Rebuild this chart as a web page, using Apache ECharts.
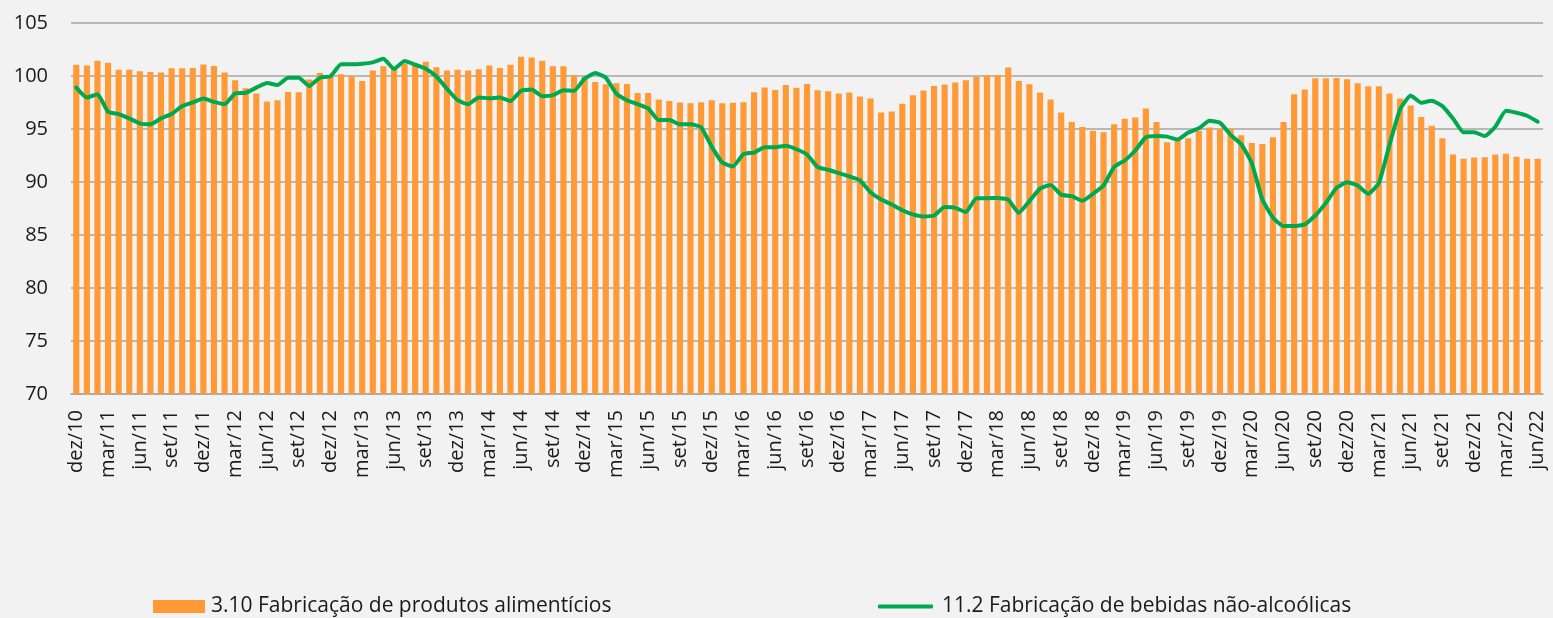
<!DOCTYPE html>
<html>
<head>
<meta charset="utf-8">
<script src="https://cdn.jsdelivr.net/npm/echarts@6/dist/echarts.min.js"></script>
<style>
html,body{margin:0;padding:0;background:#f2f2f3;}
#chart{width:1553px;height:618px;}
</style>
</head>
<body>
<div id="chart"></div>
<script>
const categories = [
'dez/10',
'jan/11','fev/11','mar/11','abr/11','mai/11','jun/11','jul/11','ago/11','set/11','out/11','nov/11','dez/11',
'jan/12','fev/12','mar/12','abr/12','mai/12','jun/12','jul/12','ago/12','set/12','out/12','nov/12','dez/12',
'jan/13','fev/13','mar/13','abr/13','mai/13','jun/13','jul/13','ago/13','set/13','out/13','nov/13','dez/13',
'jan/14','fev/14','mar/14','abr/14','mai/14','jun/14','jul/14','ago/14','set/14','out/14','nov/14','dez/14',
'jan/15','fev/15','mar/15','abr/15','mai/15','jun/15','jul/15','ago/15','set/15','out/15','nov/15','dez/15',
'jan/16','fev/16','mar/16','abr/16','mai/16','jun/16','jul/16','ago/16','set/16','out/16','nov/16','dez/16',
'jan/17','fev/17','mar/17','abr/17','mai/17','jun/17','jul/17','ago/17','set/17','out/17','nov/17','dez/17',
'jan/18','fev/18','mar/18','abr/18','mai/18','jun/18','jul/18','ago/18','set/18','out/18','nov/18','dez/18',
'jan/19','fev/19','mar/19','abr/19','mai/19','jun/19','jul/19','ago/19','set/19','out/19','nov/19','dez/19',
'jan/20','fev/20','mar/20','abr/20','mai/20','jun/20','jul/20','ago/20','set/20','out/20','nov/20','dez/20',
'jan/21','fev/21','mar/21','abr/21','mai/21','jun/21','jul/21','ago/21','set/21','out/21','nov/21','dez/21',
'jan/22','fev/22','mar/22','abr/22','mai/22','jun/22'
];

const alimenticios = [
101.06,101.0,101.44,101.25,100.59,100.59,100.44,100.38,100.34,100.72,100.72,100.75,101.09,
100.94,100.34,99.59,98.84,98.34,97.59,97.71,98.5,98.46,99.66,100.28,100.0,
100.16,99.97,99.53,100.53,100.91,100.69,101.16,101.0,101.35,100.82,100.53,100.6,
100.53,100.63,101.0,100.75,101.06,101.81,101.75,101.44,100.91,100.91,100.06,99.9,
99.44,99.22,99.31,99.25,98.4,98.4,97.78,97.63,97.5,97.44,97.53,97.72,
97.44,97.47,97.53,98.47,98.91,98.69,99.16,98.88,99.25,98.66,98.56,98.34,
98.44,98.06,97.88,96.56,96.66,97.38,98.19,98.63,99.06,99.19,99.38,99.59,
99.94,100.06,100.06,100.81,99.53,99.22,98.44,97.78,96.56,95.66,95.19,94.84,
94.69,95.44,95.97,96.09,96.94,95.66,93.75,93.97,94.13,94.84,95.13,95.0,
95.0,94.41,93.69,93.59,94.22,95.66,98.28,98.72,99.78,99.78,99.81,99.69,
99.31,99.03,99.03,98.34,97.88,97.22,96.13,95.31,94.13,92.59,92.19,92.31,
92.34,92.59,92.66,92.38,92.19,92.19
];

const bebidas = [
98.91,97.97,98.28,96.63,96.41,96.0,95.53,95.44,96.0,96.41,97.16,97.5,97.88,
97.56,97.34,98.34,98.41,98.9,99.34,99.15,99.84,99.84,99.06,99.84,99.97,
101.1,101.1,101.16,101.29,101.63,100.66,101.41,101.07,100.69,99.95,98.8,97.72,
97.34,97.97,97.9,97.97,97.63,98.6,98.72,98.1,98.19,98.66,98.6,99.75,
100.28,99.84,98.34,97.72,97.34,96.94,95.84,95.84,95.44,95.44,95.16,93.34,
91.84,91.47,92.63,92.78,93.28,93.28,93.41,93.09,92.6,91.41,91.16,90.84,
90.53,90.16,89.03,88.34,87.88,87.34,86.94,86.75,86.84,87.63,87.56,87.16,
88.47,88.47,88.5,88.34,87.09,88.19,89.38,89.72,88.81,88.66,88.22,88.88,
89.66,91.41,92.03,92.97,94.22,94.34,94.28,94.0,94.66,95.06,95.78,95.59,
94.44,93.56,91.78,88.34,86.63,85.84,85.84,86.0,86.84,88.03,89.44,89.97,
89.66,88.88,89.91,93.5,96.84,98.16,97.47,97.66,97.16,96.0,94.69,94.69,
94.34,95.22,96.72,96.53,96.25,95.69
];

const yTicks = { min: 70, max: 105, interval: 5 };
const seriesNames = ['3.10 Fabricação de produtos alimentícios', '11.2 Fabricação de bebidas não-alcoólicas'];

const FONT = '"Open Sans", "Noto Sans", sans-serif';
const FS = 20;
const LFS = 21;
const chart = echarts.init(document.getElementById('chart'), null, { renderer: 'canvas' });
chart.setOption({
  backgroundColor: '#f2f2f3',
  animation: false,
  textStyle: { fontFamily: FONT },
  grid: { left: 71, right: 10, top: 23, bottom: 224, containLabel: false },
  legend: [
    {
      data: [seriesNames[0]],
      left: 153, top: 596, padding: 0,
      icon: 'rect', itemWidth: 52, itemHeight: 13, itemGap: 6,
      textStyle: { fontFamily: FONT, fontSize: LFS, color: '#1a1a1a', padding: [0, 0, 0, 1] }
    },
    {
      data: [seriesNames[1]],
      left: 878, top: 596, padding: 0,
      icon: 'roundRect', itemWidth: 55, itemHeight: 4, itemGap: 6,
      itemStyle: { color: '#00a84f' },
      textStyle: { fontFamily: FONT, fontSize: LFS, color: '#1a1a1a', padding: [0, 0, 0, 4] }
    }
  ],
  xAxis: {
    type: 'category',
    data: categories,
    boundaryGap: true,
    axisLine: { show: true, lineStyle: { color: '#a6a6a6', width: 1.5 } },
    axisTick: { show: false },
    axisLabel: {
      interval: 2,
      rotate: 90,
      margin: 16,
      fontFamily: FONT,
      fontSize: FS,
      color: '#1a1a1a'
    },
    splitLine: { show: false }
  },
  yAxis: {
    type: 'value',
    min: yTicks.min, max: yTicks.max, interval: yTicks.interval,
    axisLine: { show: false },
    axisTick: { show: false },
    axisLabel: { margin: 23, fontFamily: FONT, fontSize: FS, color: '#1a1a1a' },
    splitLine: { show: true, lineStyle: { color: '#a6a6a6', width: 1.5 } }
  },
  series: [
    {
      name: seriesNames[0],
      type: 'bar',
      data: alimenticios,
      barCategoryGap: '42%',
      itemStyle: { color: '#ff9a36' },
      z: 2
    },
    {
      name: seriesNames[1],
      type: 'line',
      data: bebidas,
      symbol: 'none',
      smooth: 0.15,
      lineStyle: { color: '#00a84f', width: 4, cap: 'round', join: 'round' },
      itemStyle: { color: '#00a84f' },
      z: 3
    }
  ]
});
</script>
</body>
</html>
